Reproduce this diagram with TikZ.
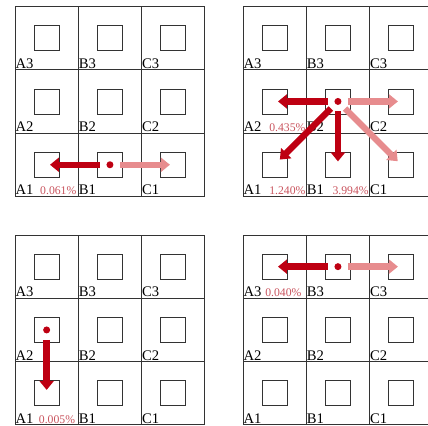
\documentclass[tikz,border=0pt]{standalone}
\usepackage{fontspec}
\setmainfont{Liberation Serif}
\usetikzlibrary{arrows.meta,positioning}
\definecolor{hot}{HTML}{BE0012}
\definecolor{pale}{HTML}{E78C8E}
\definecolor{ratetext}{HTML}{C9545E}

\begin{document}
\begin{tikzpicture}[x=0.03cm,y=-0.03cm,
  cell/.style={draw=black!80,line width=0.7pt},
  slot/.style={draw=black!80,line width=0.7pt,minimum size=0.75cm,inner sep=0},
  cellname/.style={font=\fontsize{12.5}{14}\selectfont,anchor=base west,inner sep=0},
  rate/.style={font=\fontsize{10}{12}\selectfont,text=ratetext,anchor=base east,inner sep=0},
  dot/.style={circle,fill=hot,minimum size=0.21cm,inner sep=0},
  hotarr/.style={-{Triangle[width=0.42cm,length=0.27cm]},line width=5.4pt,hot,shorten <=0.3cm,shorten >=0.1cm},
  palearr/.style={hotarr,pale}]
\useasboundingbox (0,0) rectangle (428,425);
% four 3x3 grids
\foreach \pn/\ox/\oy in {P1/15/6.5,P2/243/6.5,P3/15/235,P4/243/235}
  \foreach \c [count=\i from 0] in {A,B,C}
    \foreach \r [count=\j from 0] in {3,2,1} {
      \draw[cell] (\ox+\i*63.3,\oy+\j*63.3) rectangle ++(63.3,63.3);
      \node[slot] (\pn\c\r) at (\ox+\i*63.3+31.65,\oy+\j*63.3+31.65) {};
      \node[cellname] (\pn\c\r-lbl) at (\ox+\i*63.3+0.3,\oy+\j*63.3+61.8) {\c\r};
    }
% panel 1
\node[dot] (P1dot) at (P1B1) {};
\draw[palearr] (P1dot.center) -- (P1C1.center);
\draw[hotarr] (P1dot.center) -- (P1A1.center);
\node[rate] (P1A1-rate) at ([xshift=-0.06cm]P1B1-lbl.base west) {0.061\%};
% panel 2
\node[dot] (P2dot) at (P2B2) {};
\draw[palearr] (P2dot.center) -- (P2C2.center);
\draw[palearr,shorten >=0.15cm] (P2dot.center) -- (P2C1.center);
\draw[hotarr] (P2dot.center) -- (P2A2.center);
\draw[hotarr] (P2dot.center) -- (P2B1.center);
\draw[hotarr,shorten >=0.22cm] (P2dot.center) -- (P2A1.center);
\node[rate] (P2A2-rate) at ([xshift=-0.03cm]P2B2-lbl.base west) {0.435\%};
\node[rate] (P2A1-rate) at ([xshift=-0.03cm]P2B1-lbl.base west) {1.240\%};
\node[rate] (P2B1-rate) at ([xshift=-0.03cm]P2C1-lbl.base west) {3.994\%};
% panel 3
\node[dot] (P3dot) at (P3A2) {};
\draw[hotarr] (P3dot.center) -- (P3A1.center);
\node[rate] (P3A1-rate) at ([xshift=-0.1cm]P3B1-lbl.base west) {0.005\%};
% panel 4
\node[dot] (P4dot) at (P4B3) {};
\draw[palearr] (P4dot.center) -- (P4C3.center);
\draw[hotarr] (P4dot.center) -- (P4A3.center);
\node[rate] (P4A3-rate) at ([xshift=-0.15cm]P4B3-lbl.base west) {0.040\%};
\end{tikzpicture}
\end{document}
